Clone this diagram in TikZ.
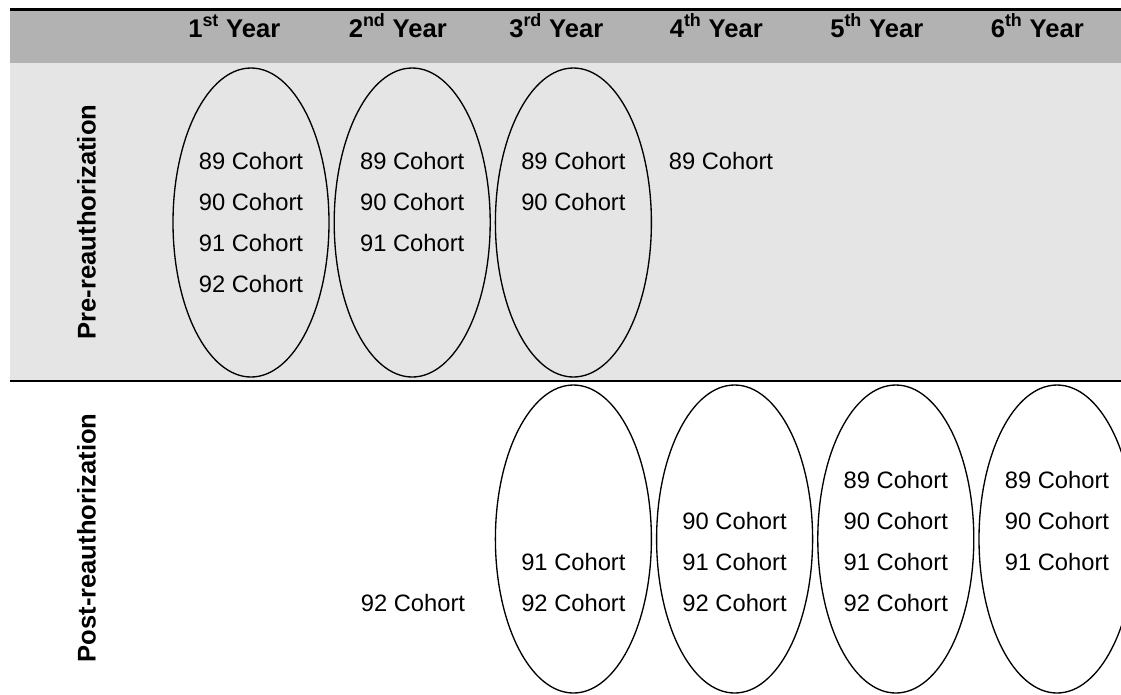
\documentclass[tikz,border=0pt]{standalone}
\usepackage{fontspec}
\setmainfont{Liberation Sans}
\usetikzlibrary{calc}
\definecolor{headgray}{HTML}{B2B2B2}
\definecolor{bandgray}{HTML}{E5E5E5}

\begin{document}
\begin{tikzpicture}[x=0.75pt, y=-0.75pt,
		cohort/.style = {anchor=base, inner sep=0pt, font=\fontsize{17.8}{20}\selectfont},
		yearhead/.style = {anchor=base west, inner sep=0pt, font=\fontsize{19.2}{22}\selectfont\bfseries},
		period/.style = {rotate=90, inner sep=0pt, font=\fontsize{19.2}{22}\selectfont\bfseries},
		ring/.style = {draw=black, line width=1pt}]
					\def\xL{10};
					\def\xR{1121};
					\def\colX{251};
					\def\dX{161.2};
					\def\preY{169.5};
					\def\postY{488.5};
					\def\rowH{41};

					\useasboundingbox (0,0) rectangle (1121,694);

					% bands and rules
					\begin{scope}
						\fill [headgray] (\xL,11) rectangle (\xR,63);
						\fill [bandgray] (\xL,63) rectangle (\xR,380);
						\draw [line width=2.6pt] (\xL,9.5) -- (\xR,9.5);
						\draw [line width=1.8pt] (\xL,381) -- (\xR,381);
					\end{scope}

					% year headings
					\foreach \c/\suf in {1/st, 2/nd, 3/rd, 4/th, 5/th, 6/th}
						\node [yearhead] (year\c) at ({188+160.5*(\c-1)},37) {\c\textsuperscript{\suf} Year};

					% period labels
					\node [period] (pre) at (86.5,222) {Pre-reauthorization};
					\node [period] (post) at (86.5,538) {Post-reauthorization};

					% ellipses
					\begin{scope}
						\foreach \c in {1,2,3}
							\draw [ring] ({\colX+\dX*(\c-1)},222.5) ellipse [x radius=78, y radius=154.5];
						\foreach \c in {3,4,5,6}
							\draw [ring] ({\colX+\dX*(\c-1)},539) ellipse [x radius=78, y radius=154];
					\end{scope}

					% cohorts before
					\foreach \c/\last in {1/4, 2/3, 3/2}
						\foreach \r in {1,...,\last}
							\node [cohort] (pre\c-\r) at ({\colX+\dX*(\c-1)},{\preY+\rowH*(\r-1)}) {\the\numexpr88+\r\relax{} Cohort};
					\node [cohort] (pre4-1) at (721,\preY) {89 Cohort};

					% cohorts after
					\node [cohort] (post2-4) at (413,{\postY+3*\rowH}) {92 Cohort};
					\foreach \c/\first/\last in {3/3/4, 4/2/4, 5/1/4, 6/1/3}
						\foreach \r in {\first,...,\last}
							\node [cohort] (post\c-\r) at ({\colX+\dX*(\c-1)},{\postY+\rowH*(\r-1)}) {\the\numexpr88+\r\relax{} Cohort};
				\end{tikzpicture}
\end{document}
